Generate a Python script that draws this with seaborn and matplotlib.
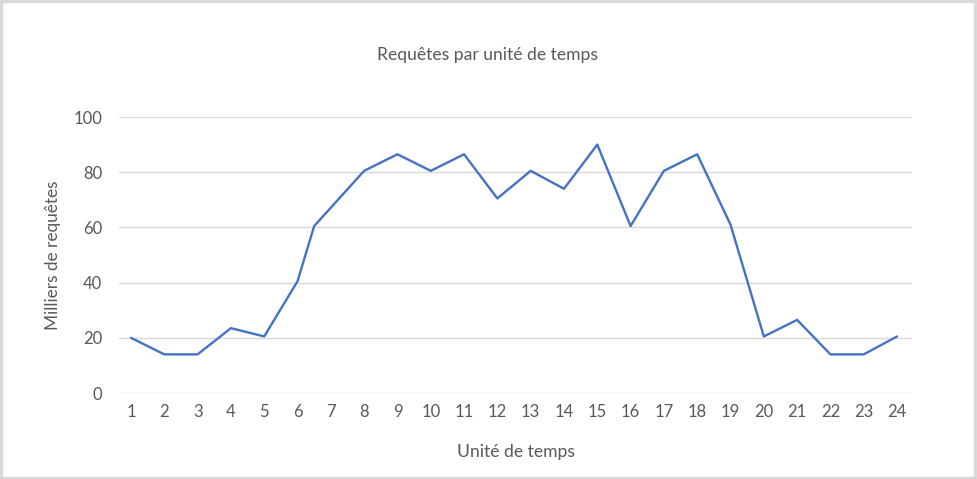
import matplotlib
matplotlib.use("Agg")
import matplotlib.pyplot as plt
import seaborn as sns
import pandas as pd

# valeurs
unite = [1, 2, 3, 4, 5, 6, 6.5, 8, 9, 10, 11, 12, 13, 14, 15, 16, 17, 18, 19, 20, 21, 22, 23, 24]
requetes = [20, 14, 14, 23.5, 20.5, 40.5, 60.5, 80.5, 86.5, 80.5, 86.5, 70.5, 80.5, 74, 90, 60.5,
            80.5, 86.5, 61, 20.5, 26.5, 14, 14, 20.5]
xticks = list(range(1, 25))
yticks = [0, 20, 40, 60, 80, 100]

sns.set_theme(style="white")
plt.rcParams["font.family"] = ["Lato", "DejaVu Sans"]

df = pd.DataFrame({"unite": unite, "requetes": requetes})

fig = plt.figure(figsize=(9.77, 4.79), dpi=100)
ax = fig.add_axes([0.1218, 0.1795, 0.8117, 0.5762])
sns.lineplot(data=df, x="unite", y="requetes", ax=ax, color="#4472C4", linewidth=1.7)

ax.set_xlim(0.64, 24.45)
ax.set_ylim(0, 100)
ax.set_xticks(xticks)
ax.set_yticks(yticks)
ax.grid(axis="y", color="#d9d9d9", linewidth=1)
ax.set_axisbelow(True)
sns.despine(ax=ax, left=True, bottom=True, right=True, top=True)
ax.tick_params(axis="both", length=0, labelsize=12, labelcolor="#595959")
ax.tick_params(axis="x", pad=8)
ax.tick_params(axis="y", pad=12)

ax.set_xlabel("Unité de temps", fontsize=12.6, color="#595959", labelpad=17)
ax.set_ylabel("Milliers de requêtes", fontsize=12.4, color="#595959", labelpad=9)
fig.text(0.4985, 0.886, "Requêtes par unité de temps", ha="center", va="center",
         fontsize=12.6, color="#595959")

# cadre gris autour du graphique
fig.patches.append(plt.Rectangle((0.001, 0.003), 0.997, 0.994, transform=fig.transFigure,
                                 fill=False, edgecolor="#d9d9d9", linewidth=2.5))

fig.savefig("out.png", dpi=100)
